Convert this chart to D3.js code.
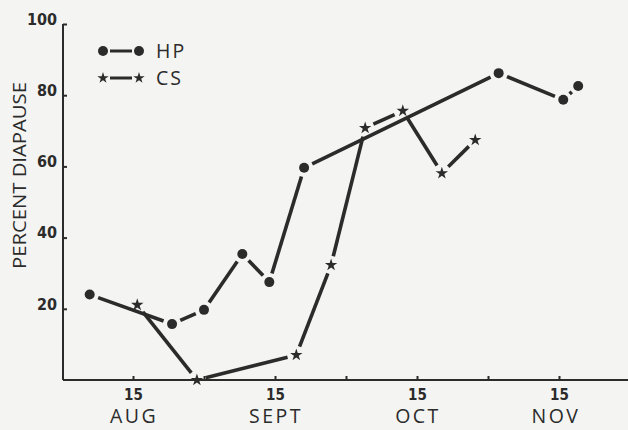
<!DOCTYPE html>
<html>
<head>
<meta charset="utf-8">
<script src="https://cdn.jsdelivr.net/npm/d3@7"></script>
<style>
  body { margin: 0; background: #f4f4f2; }
  svg { display: block; }
</style>
</head>
<body>
<svg></svg>
<script>
// x is in half-month steps: 0 = Aug 1, 1 = Aug 15, 2 = Sep 1 ...
var hpDates = [0.39, 1.55, 2.00, 2.54, 2.92, 3.41, 6.15, 7.06, 7.27];
var hpValues = [24, 15.7, 19.7, 35.4, 27.5, 59.6, 86.2, 78.7, 82.6];

var csDates = [1.06, 1.90, 3.30, 3.79, 4.27, 4.80, 5.35, 5.82];
var csValues = [21.1, 0, 7.0, 32.3, 70.8, 75.6, 58.1, 67.4];

var yTicks = [20, 40, 60, 80, 100];
var xTicks = [1, 2, 3, 4, 5, 6, 7];
var monthTicks = [1, 3, 5, 7];
var monthLabels = ["AUG", "SEPT", "OCT", "NOV"];
var seriesNames = ["HP", "CS"];

var width = 628, height = 430;
var ink = "#2b2b2b";
var gap = 9;

var svg = d3.select("svg")
	.attr("width", width)
	.attr("height", height);

var xScale = d3.scaleLinear()
	.domain([0, 8])
	.range([62, 630]);

var yScale = d3.scaleLinear()
	.domain([0, 100])
	.range([380, 24]);

var numFont = "'Liberation Sans Narrow', 'DejaVu Sans Condensed', sans-serif";
var labelFont = "'Open Sans', 'DejaVu Sans', sans-serif";

// axes
var yAxis = d3.axisLeft(yScale)
	.tickValues(yTicks)
	.tickSize(-4)
	.tickSizeOuter(0)
	.tickPadding(6);

var xAxis = d3.axisBottom(xScale)
	.tickValues(xTicks)
	.tickSize(-4)
	.tickSizeOuter(0)
	.tickPadding(9)
	.tickFormat(d => d % 2 ? "15" : "");

var gy = svg.append("g")
	.attr("transform", `translate(${xScale(0) + 1}, 0)`)
	.call(yAxis);
gy.select(".domain").attr("d", `M0,${yScale(0)}V${yScale(100)}`);

var gx = svg.append("g")
	.attr("transform", `translate(0, ${yScale(0)})`)
	.call(xAxis);
gx.select(".domain").attr("d", `M${xScale(0) + 1},0H628`);

[gx, gy].forEach(g => {
	g.select(".domain").attr("stroke", ink).attr("stroke-width", 2);
	g.selectAll(".tick line").attr("stroke", ink).attr("stroke-width", 2);
	g.selectAll("text")
		.attr("fill", ink)
		.style("font-family", numFont)
		.style("font-weight", "bold")
		.style("font-size", "16px");
});
gy.selectAll("text").attr("dy", "0.02em");
gx.selectAll("text").style("font-size", "15px");

// month names
svg.append("g")
	.selectAll("text")
	.data(monthTicks)
	.enter()
	.append("text")
		.attr("x", (d, i) => xScale(d) + [1, 1, 1, -3][i])
		.attr("y", 423)
		.attr("text-anchor", "middle")
		.attr("fill", ink)
		.style("font-family", labelFont)
		.style("font-size", "19.5px")
		.style("letter-spacing", "2.5px")
		.text((d, i) => monthLabels[i]);

// y label
svg.append("text")
	.attr("transform", "translate(26, 175.5) rotate(-90)")
	.attr("text-anchor", "middle")
	.attr("fill", ink)
	.attr("textLength", 187)
	.attr("lengthAdjust", "spacingAndGlyphs")
	.style("font-family", labelFont)
	.style("font-size", "19px")
	.text("PERCENT DIAPAUSE");

// series drawn as separate segments that stop short of the markers
function drawSeries(dates, values, marker) {
	var pts = dates.map((d, i) => [xScale(d), yScale(values[i])]);
	var segs = d3.pairs(pts).map(([a, b]) => {
		var dx = b[0] - a[0], dy = b[1] - a[1];
		var len = Math.sqrt(dx * dx + dy * dy);
		var ux = dx / len, uy = dy / len;
		var g = Math.min(gap, len / 2 - 1.5);
		return [[a[0] + ux * g, a[1] + uy * g], [b[0] - ux * g, b[1] - uy * g]];
	});

	var g = svg.append("g");
	g.selectAll("path.seg")
		.data(segs)
		.enter()
		.append("path")
			.attr("class", "seg")
			.attr("d", d3.line())
			.attr("fill", "none")
			.attr("stroke", ink)
			.attr("stroke-width", 3.6);

	if (marker == "circle") {
		g.selectAll("circle")
			.data(pts)
			.enter()
			.append("circle")
				.attr("cx", d => d[0])
				.attr("cy", d => d[1])
				.attr("r", 5)
				.attr("fill", ink);
	} else {
		g.selectAll("path.star")
			.data(pts)
			.enter()
			.append("path")
				.attr("class", "star")
				.attr("transform", d => `translate(${d[0]}, ${d[1]})`)
				.attr("d", d3.symbol(d3.symbolStar).size(48))
				.attr("fill", ink);
	}
}

drawSeries(hpDates, hpValues, "circle");
drawSeries(csDates, csValues, "star");

// legend
var legend = svg.append("g");
seriesNames.forEach((name, i) => {
	var y = 51 + i * 27;
	legend.append("line")
		.attr("x1", 110).attr("x2", 132)
		.attr("y1", y).attr("y2", y)
		.attr("stroke", ink)
		.attr("stroke-width", 3);
	[103, 139].forEach(x => {
		if (i == 0) {
			legend.append("circle")
				.attr("cx", x).attr("cy", y).attr("r", 5)
				.attr("fill", ink);
		} else {
			legend.append("path")
				.attr("transform", `translate(${x}, ${y})`)
				.attr("d", d3.symbol(d3.symbolStar).size(40))
				.attr("fill", ink);
		}
	});
	legend.append("text")
		.attr("x", 156)
		.attr("y", y + 7)
		.attr("fill", ink)
		.style("font-family", labelFont)
		.style("font-size", "19.5px")
		.style("letter-spacing", "2px")
		.text(name);
});
</script>
</body>
</html>
